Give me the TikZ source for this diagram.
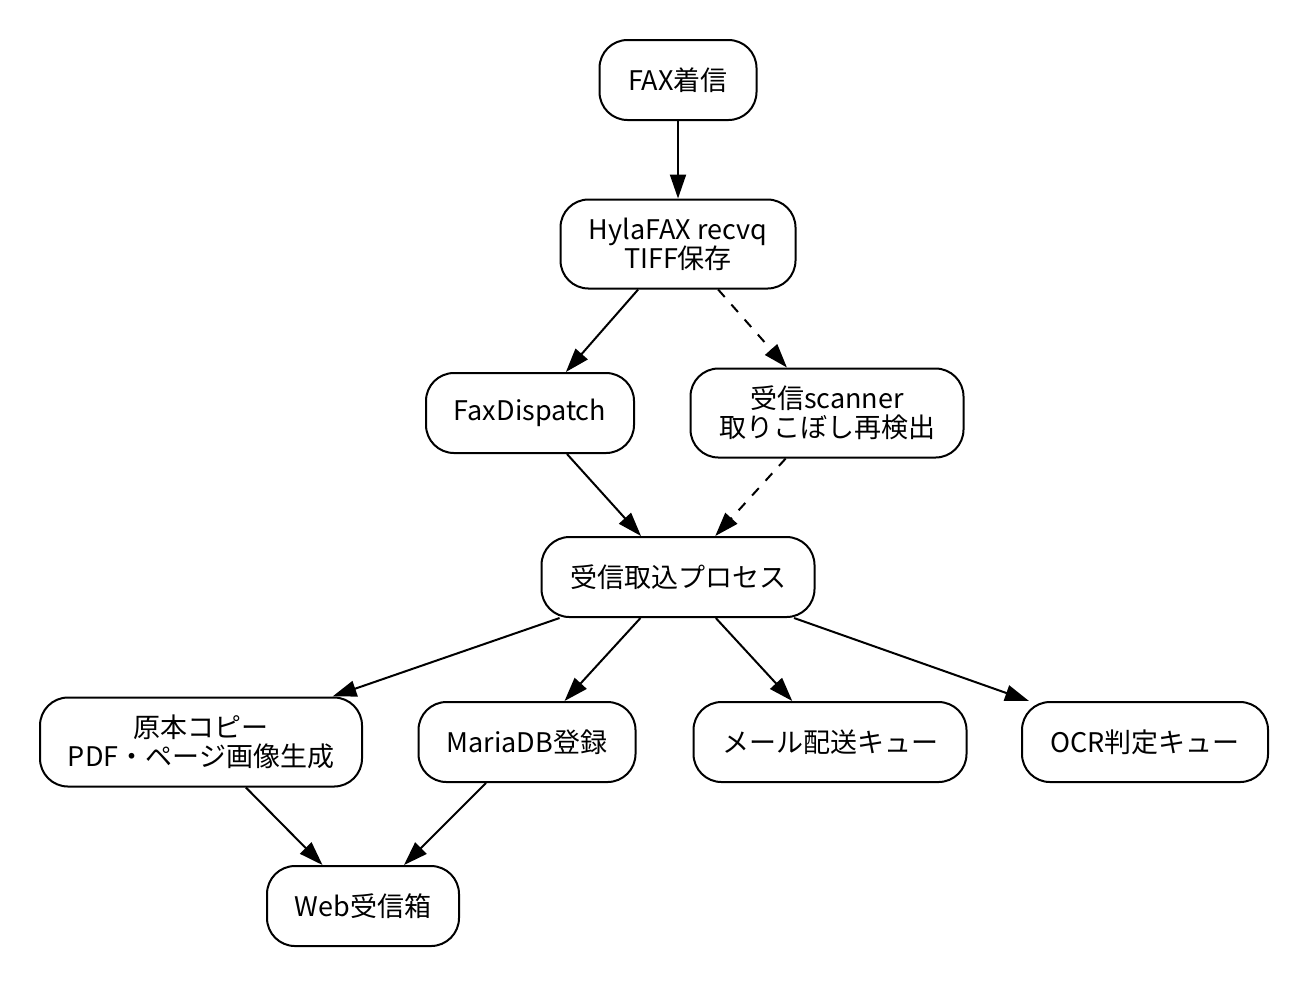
\documentclass[tikz,border=0pt]{standalone}
\usepackage{fontspec}
\setmainfont{Noto Sans CJK JP}
\usetikzlibrary{arrows.meta}

\begin{document}
\begin{tikzpicture}[x=0.5pt,y=-0.5pt,
  box/.style={draw, line width=1pt, rounded corners=14pt, align=center,
    inner sep=0pt, font=\fontsize{13.5}{14.5}\selectfont},
  flow/.style={-{Triangle[length=12pt,width=8pt]}, line width=1pt},
  weak/.style={flow, dash pattern=on 5pt off 5pt}]
\useasboundingbox (0,0) rectangle (1309,987);

% Incoming fax
\node[box, minimum width=78.5pt, minimum height=40pt] (fax) at (678,80) {FAX着信};
\node[box, minimum width=117.5pt, minimum height=44.5pt] (hyla) at (678,244) {HylaFAX recvq\\TIFF保存};

% Dispatch paths
\node[box, minimum width=104pt, minimum height=40pt] (disp) at (530,413) {FaxDispatch};
\node[box, minimum width=136.5pt, minimum height=44.5pt] (scan) at (827,413) {受信scanner\\取りこぼし再検出};

% Import process
\node[box, minimum width=136.5pt, minimum height=40pt] (proc) at (678,577) {受信取込プロセス};

% Outputs
\node[box, minimum width=161pt, minimum height=44.5pt] (copy) at (201,742) {原本コピー\\PDF・ページ画像生成};
\node[box, minimum width=108.5pt, minimum height=40pt] (db) at (527,742) {MariaDB登録};
\node[box, minimum width=136.5pt, minimum height=40pt] (mail) at (830,742) {メール配送キュー};
\node[box, minimum width=123pt, minimum height=40pt] (ocr) at (1145,742) {OCR判定キュー};
\node[box, minimum width=96pt, minimum height=40pt] (web) at (363,906) {Web受信箱};

% Arrows
\draw[flow] (fax) -- (hyla);
\draw[flow] (hyla) -- (disp);
\draw[weak] (hyla) -- (scan);
\draw[flow] (disp) -- (proc);
\draw[weak] (scan) -- (proc);
\draw[flow] (proc) -- (copy);
\draw[flow] (proc) -- (db);
\draw[flow] (proc) -- (mail);
\draw[flow] (proc) -- (ocr);
\draw[flow] (copy) -- (web);
\draw[flow] (db) -- (web);
\end{tikzpicture}
\end{document}
